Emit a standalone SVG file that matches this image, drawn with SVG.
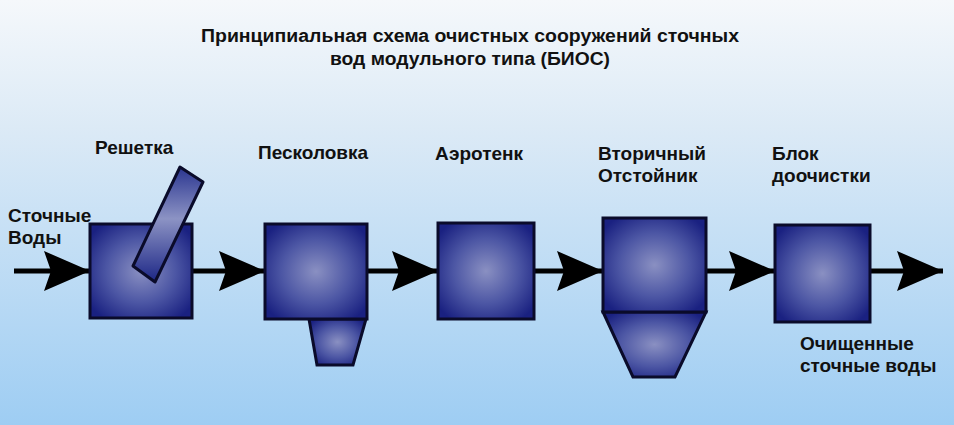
<svg xmlns="http://www.w3.org/2000/svg" width="954" height="425" viewBox="0 0 954 425">
<defs>
<linearGradient id="bg" x1="0" y1="0" x2="0" y2="1">
<stop offset="0" stop-color="#f5f8fb"/>
<stop offset="0.3" stop-color="#dceaf6"/>
<stop offset="1" stop-color="#9ecdf3"/>
</linearGradient>
<radialGradient id="box" cx="0.5" cy="0.5" r="0.62">
<stop offset="0" stop-color="#8a90c2"/>
<stop offset="0.55" stop-color="#4c56a4"/>
<stop offset="1" stop-color="#1a2181"/>
</radialGradient>
<linearGradient id="bar" x1="0" y1="0" x2="0" y2="1">
<stop offset="0" stop-color="#2a3590"/>
<stop offset="0.45" stop-color="#8c93c4"/>
<stop offset="1" stop-color="#1c2686"/>
</linearGradient>
<marker id="ah" markerUnits="userSpaceOnUse" markerWidth="48" markerHeight="44" refX="46" refY="21" orient="auto">
<path d="M0,1 L46,21 L0,41 L7,21 Z" fill="#000"/>
</marker>
</defs>
<style>
.lbl{font-family:"Liberation Sans",Arial,sans-serif;font-weight:bold;font-size:19px;fill:#111}
.ttl{font-family:"Liberation Sans",Arial,sans-serif;font-weight:bold;font-size:18px;fill:#111;text-anchor:middle}
.shp{fill:url(#box);stroke:#0a0b2a;stroke-width:3;stroke-linejoin:miter}
.con{stroke:#000;stroke-width:5;fill:none;marker-end:url(#ah)}
</style>
<rect x="0" y="0" width="954" height="425" fill="url(#bg)"/>
<g id="title">
<text class="ttl" x="470" y="42" textLength="538" lengthAdjust="spacingAndGlyphs">Принципиальная схема очистных сооружений сточных</text>
<text class="ttl" x="470" y="65" textLength="280" lengthAdjust="spacingAndGlyphs">вод модульного типа (БИОС)</text>
</g>
<g id="connectors">
<line class="con" x1="14" y1="271" x2="90" y2="271"/>
<line class="con" x1="192" y1="271" x2="265" y2="271"/>
<line class="con" x1="367" y1="271" x2="438" y2="271"/>
<line class="con" x1="534" y1="271" x2="603" y2="271"/>
<line class="con" x1="706" y1="271" x2="775" y2="271"/>
<line class="con" x1="870" y1="271" x2="943" y2="271"/>
</g>
<g id="input">
<text class="lbl" x="8" y="222">Сточные</text>
<text class="lbl" x="8" y="244">Воды</text>
</g>
<g id="reshetka">
<rect class="shp" x="90" y="224" width="102" height="94"/>
<polygon points="180,167 203,182 155,282 133,266" fill="url(#bar)" stroke="#0a0b2a" stroke-width="3" stroke-linejoin="round"/>
<text class="lbl" x="95" y="154">Решетка</text>
</g>
<g id="peskolovka">
<polygon class="shp" points="309,319 366,319 353,365 317,365"/>
<rect class="shp" x="265" y="224" width="102" height="95"/>
<text class="lbl" x="258" y="159">Песколовка</text>
</g>
<g id="aerotenk">
<rect class="shp" x="438" y="223" width="96" height="96"/>
<text class="lbl" x="435" y="160">Аэротенк</text>
</g>
<g id="otstoinik">
<polygon class="shp" points="603,312 706,312 675,377 633,377"/>
<rect class="shp" x="603" y="218" width="103" height="94"/>
<text class="lbl" x="598" y="160">Вторичный</text>
<text class="lbl" x="598" y="182">Отстойник</text>
</g>
<g id="doochistka">
<rect class="shp" x="775" y="225" width="95" height="97"/>
<text class="lbl" x="772" y="160">Блок</text>
<text class="lbl" x="772" y="182">доочистки</text>
</g>
<g id="output">
<text class="lbl" x="800" y="350">Очищенные</text>
<text class="lbl" x="800" y="372">сточные воды</text>
</g>
</svg>
